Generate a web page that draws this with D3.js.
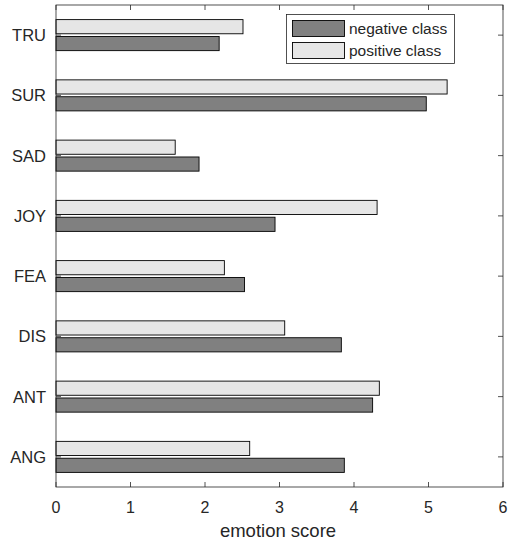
<!DOCTYPE html>
<html>
<head>
<meta charset="utf-8">
<script src="https://cdn.jsdelivr.net/npm/d3@7"></script>
<style>
  body { margin: 0; background: #fff; }
  text { font-family: "Liberation Sans", Arial, sans-serif; fill: #262626; }
</style>
</head>
<body>
<div id="chart"></div>
<script>
var categories = ["ANG", "ANT", "DIS", "FEA", "JOY", "SAD", "SUR", "TRU"];
var negativeScores = [3.87, 4.25, 3.83, 2.53, 2.94, 1.92, 4.97, 2.19];
var positiveScores = [2.60, 4.34, 3.07, 2.26, 4.31, 1.60, 5.25, 2.51];
var seriesNames = ["negative class", "positive class"];
var xTicks = [0, 1, 2, 3, 4, 5, 6];

var width = 513, height = 545;
var plotLeft = 56, plotRight = 503, plotTop = 5, plotBottom = 487;

var svg = d3.select("#chart").append("svg")
  .attr("width", width)
  .attr("height", height);

var x = d3.scaleLinear().domain([0, 6]).range([plotLeft, plotRight]);
// categories 1..8 bottom to top, limits 0.5..8.5
var y = d3.scaleLinear().domain([0.5, 8.5]).range([plotBottom, plotTop]);
var unit = y(1) - y(2);
var barH = 0.235 * unit;
var offset = 0.14 * unit;

var axisColor = "#262626";

// ticks (drawn first so bars cover them)
var g = svg.append("g");
xTicks.forEach(function (t) {
  g.append("line").attr("x1", x(t)).attr("x2", x(t)).attr("y1", plotBottom).attr("y2", plotBottom - 5)
    .attr("stroke", axisColor).attr("stroke-width", 0.8);
  g.append("line").attr("x1", x(t)).attr("x2", x(t)).attr("y1", plotTop).attr("y2", plotTop + 5)
    .attr("stroke", axisColor).attr("stroke-width", 0.8);
  g.append("text").attr("x", x(t)).attr("y", plotBottom + 26)
    .attr("text-anchor", "middle").style("font-size", "16px").text(t);
});
categories.forEach(function (c, i) {
  var cy = y(i + 1);
  g.append("line").attr("x1", plotLeft).attr("x2", plotLeft + 5).attr("y1", cy).attr("y2", cy)
    .attr("stroke", axisColor).attr("stroke-width", 0.8);
  g.append("line").attr("x1", plotRight).attr("x2", plotRight - 5).attr("y1", cy).attr("y2", cy)
    .attr("stroke", axisColor).attr("stroke-width", 0.8);
  g.append("text").attr("x", plotLeft - 10).attr("y", cy + 6)
    .attr("text-anchor", "end").style("font-size", "16.5px").text(c);
});

// bars
var bars = svg.append("g");
bars.selectAll("rect.pos")
  .data(positiveScores)
  .enter().append("rect")
  .attr("class", "pos")
  .attr("x", x(0))
  .attr("y", function (d, i) { return y(i + 1) - offset - barH / 2; })
  .attr("width", function (d) { return x(d) - x(0); })
  .attr("height", barH)
  .attr("fill", "#e6e6e6")
  .attr("stroke", "#000")
  .attr("stroke-width", 0.9);

bars.selectAll("rect.neg")
  .data(negativeScores)
  .enter().append("rect")
  .attr("class", "neg")
  .attr("x", x(0))
  .attr("y", function (d, i) { return y(i + 1) + offset - barH / 2; })
  .attr("width", function (d) { return x(d) - x(0); })
  .attr("height", barH)
  .attr("fill", "#808080")
  .attr("stroke", "#000")
  .attr("stroke-width", 0.9);

// axis box
svg.append("rect")
  .attr("x", plotLeft).attr("y", plotTop)
  .attr("width", plotRight - plotLeft).attr("height", plotBottom - plotTop)
  .attr("fill", "none").attr("stroke", axisColor).attr("stroke-width", 0.8);

svg.append("text")
  .attr("x", 278).attr("y", plotBottom + 50)
  .attr("text-anchor", "middle").style("font-size", "18.5px")
  .text("emotion score");

// legend
var lg = svg.append("g");
lg.append("rect").attr("x", 286.5).attr("y", 14.5).attr("width", 168).attr("height", 49)
  .attr("fill", "#fff").attr("stroke", axisColor).attr("stroke-width", 0.8);
var legendFills = ["#808080", "#e6e6e6"];
seriesNames.forEach(function (s, i) {
  var yy = 20 + i * 22;
  lg.append("rect").attr("x", 292.5).attr("y", yy + 0.5).attr("width", 52).attr("height", 16)
    .attr("fill", legendFills[i]).attr("stroke", "#000").attr("stroke-width", 0.9);
  lg.append("text").attr("x", 349).attr("y", yy + 14).style("font-size", "15.5px").text(s);
});
</script>
</body>
</html>
